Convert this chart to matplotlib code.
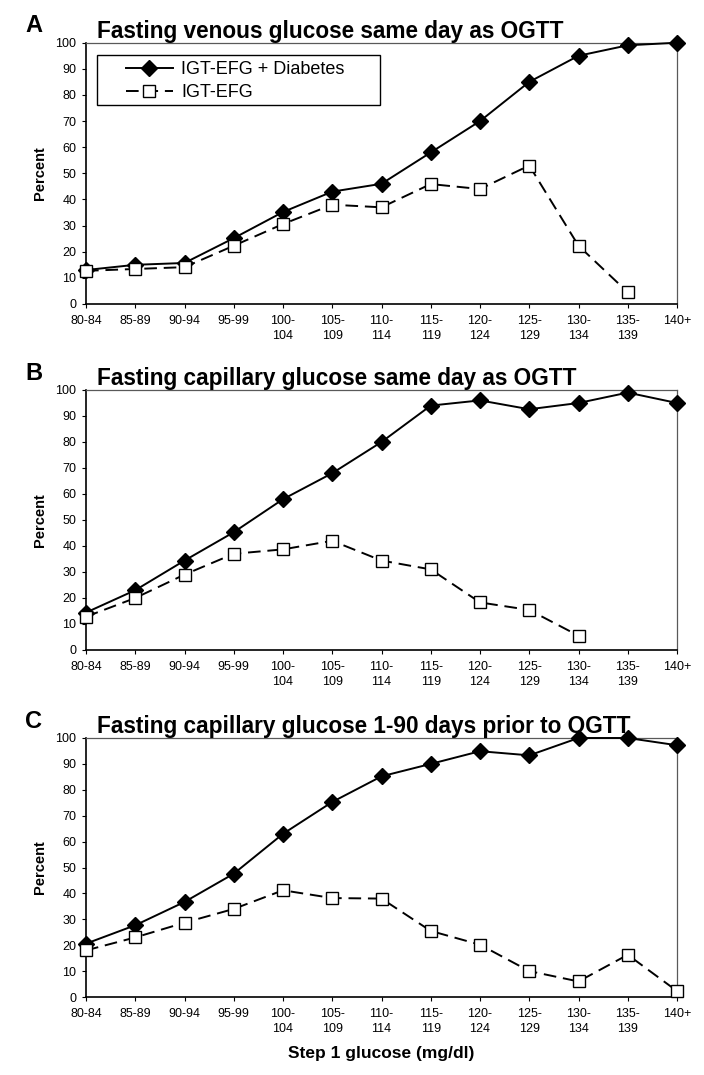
import numpy as np
import matplotlib
matplotlib.use("Agg")
import matplotlib.pyplot as plt
from matplotlib.patches import Rectangle

plt.rcParams['font.family'] = ['Liberation Sans', 'DejaVu Sans']

categories = ["80-84", "85-89", "90-94", "95-99", "100-\n104", "105-\n109", "110-\n114",
              "115-\n119", "120-\n124", "125-\n129", "130-\n134", "135-\n139", "140+"]

# panel A: fasting venous glucose same day as OGTT
a_diab = [13, 15, 15.7, 25.2, 35.2, 43, 46, 58, 70, 85, 95, 99, 100]
a_igt = [12.7, 13.4, 14.1, 22.3, 30.6, 38, 37, 45.9, 44, 53, 22.3, 4.5, np.nan]

# panel B: fasting capillary glucose same day as OGTT
b_diab = [14.4, 23, 34.4, 45.3, 58, 68, 80, 94, 96, 92.6, 95, 99, 95]
b_igt = [12.8, 20, 29, 37, 38.7, 42, 34.4, 31, 18.3, 15.4, 5.5, np.nan, np.nan]

# panel C: fasting capillary glucose 1-90 days prior to OGTT
c_diab = [20.6, 27.7, 36.7, 47.6, 63, 75.3, 85.2, 90, 94.9, 93.3, 100, 100, 97.2]
c_igt = [18, 23, 28.7, 34, 41.2, 38.2, 38, 25.5, 20.2, 10, 6, 16.3, 2.3]

panels = [
    ("A", "Fasting venous glucose same day as OGTT", a_diab, a_igt),
    ("B", "Fasting capillary glucose same day as OGTT", b_diab, b_igt),
    ("C", "Fasting capillary glucose 1-90 days prior to OGTT", c_diab, c_igt),
]

W, H = 704, 1075
fig = plt.figure(figsize=(W / 100, H / 100), dpi=100)

# axes boxes in pixels: (top, bottom)
boxes = [(42.7, 304), (390, 650), (738, 997)]
left_px, right_px = 86, 677
aw = right_px - left_px

x = np.arange(len(categories))

for (letter, title, diab, igt), (top, bot) in zip(panels, boxes):
    ah = bot - top
    ax = fig.add_axes([left_px / W, 1 - bot / H, aw / W, ah / H])
    ax.plot(x, diab, color='black', lw=1.4, marker='D', ms=8.5,
            mfc='black', mec='black', clip_on=False, zorder=3,
            label="IGT-EFG + Diabetes")
    ax.plot(x, igt, color='black', lw=1.4, ls=(0, (6.5, 3.5)), marker='s', ms=9,
            mfc='white', mec='black', mew=1.0, clip_on=False, zorder=4,
            label="IGT-EFG")
    ax.set_xlim(0, 12)
    ax.set_ylim(0, 100)
    ax.set_yticks(np.arange(0, 101, 10))
    ax.set_xticks(x)
    ax.set_xticklabels(categories, fontsize=9, linespacing=1.35)
    ax.tick_params(axis='y', labelsize=9, direction='out', length=3, pad=4)
    ax.tick_params(axis='x', direction='out', length=3, pad=5)
    for s in ('left', 'bottom'):
        ax.spines[s].set_linewidth(1.2)
    for s in ('top', 'right'):
        ax.spines[s].set_linewidth(0.9)
        ax.spines[s].set_color('0.35')
    ax.set_ylabel("Percent", fontsize=10.5, fontweight='bold', labelpad=6)
    ax.text(97 / W, 1 - (top - 4.5) / H, title, transform=fig.transFigure,
            fontsize=16.3, fontweight='bold', ha='left', va='baseline')
    ax.text(25 / W, 1 - (top - 17) / H, letter, transform=fig.transFigure,
            fontsize=17, fontweight='bold', ha='left', va='center')
    if letter == "A":
        leg = ax.legend(loc='upper left',
                        bbox_to_anchor=((126 - left_px) / aw, 1 - (61 - top) / ah),
                        fontsize=13, frameon=False, borderpad=0, borderaxespad=0,
                        handlelength=2.6, handletextpad=0.45, labelspacing=0.35)
        ax.add_patch(Rectangle(((97 - left_px) / aw, 1 - (105 - top) / ah),
                               283 / aw, 50 / ah, transform=ax.transAxes,
                               fill=False, edgecolor='black', lw=1.0, zorder=5))
    if letter == "C":
        ax.set_xlabel("Step 1 glucose (mg/dl)", fontsize=12.5, fontweight='bold', labelpad=8)

fig.savefig("out.png", dpi=100)
